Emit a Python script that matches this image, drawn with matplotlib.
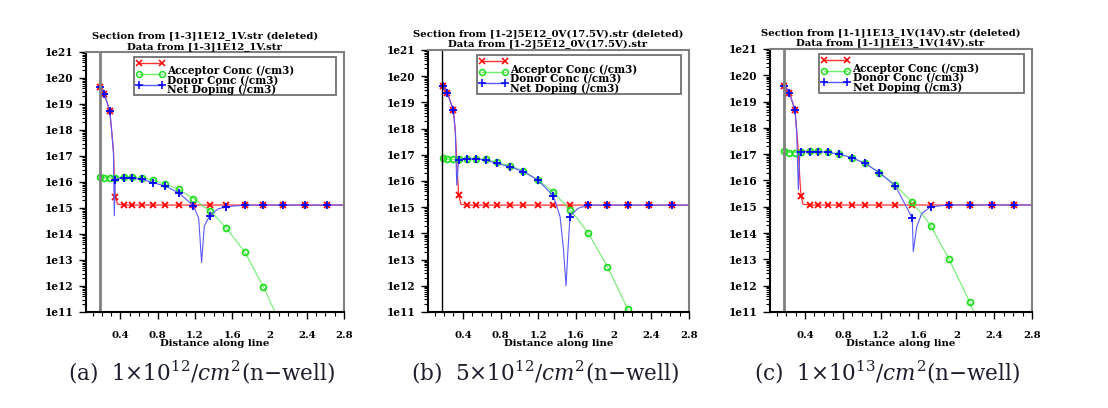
import numpy as np
import matplotlib
matplotlib.use('Agg')
import matplotlib.pyplot as plt
from matplotlib.patches import Rectangle
from matplotlib.lines import Line2D
from matplotlib.ticker import FixedLocator, LogLocator, NullFormatter, FuncFormatter, MultipleLocator

plt.rcParams['font.family'] = ['DejaVu Serif']
plt.rcParams['mathtext.fontset'] = 'dejavuserif'

# ---- panel (a): 1E12 ----
x_a = [0.185, 0.228, 0.285, 0.306, 0.325, 0.334, 0.343, 0.37, 0.436, 0.525, 0.633, 0.752, 0.876,
       1.027, 1.182, 1.24, 1.271, 1.30, 1.357, 1.45, 1.537, 1.737, 1.934, 2.149, 2.378, 2.622, 2.8]
acc_a = [4.5e19, 2.4e19, 5.4e18, 9e17, 1.5e17, 1.5e16, 2.6e15, 1.4e15] + [1.3e15] * 19
don_a = [1.5e16, 1.45e16, 1.45e16, 1.45e16, 1.45e16, 1.45e16, 1.45e16, 1.5e16, 1.58e16, 1.58e16,
         1.48e16, 1.17e16, 8.3e15, 5.2e15, 2.3e15, 1.7e15, 1.31e15, 1.1e15, 8e14, 3.7e14, 1.66e14,
         2e13, 9.3e11, 2e10, 1e8, 1e6, 1e5]
net_a = [4.5e19, 2.4e19, 5.4e18, 9e17, 1.35e17, 5e14, 1.2e16, 1.36e16, 1.38e16, 1.38e16, 1.26e16,
         9.3e15, 7.1e15, 3.8e15, 1.23e15, 4e14, 8e12, 2e14, 5e14, 9.3e14, 1.13e15, 1.28e15,
         1.3e15, 1.3e15, 1.3e15, 1.3e15, 1.3e15]
mk_a = [0, 1, 2, 6, 8, 9, 10, 11, 12, 13, 14, 18, 20, 21, 22, 23, 24, 25]

# ---- panel (b): 5E12 ----
x_b = [0.193, 0.235, 0.299, 0.32, 0.335, 0.355, 0.38, 0.441, 0.54, 0.646, 0.759, 0.9, 1.042,
       1.195, 1.36, 1.431, 1.466, 1.495, 1.517, 1.537, 1.62, 1.732, 1.934, 2.15, 2.379, 2.617, 2.8]
acc_b = [4.3e19, 2.3e19, 5.1e18, 8e17, 6e16, 2.9e15, 1.3e15] + [1.2e15] * 20
don_b = [7.4e16, 6.8e16, 6.8e16, 6.8e16, 6.8e16, 6.8e16, 7e16, 7.1e16, 7.1e16, 6.8e16, 5.1e16,
         3.8e16, 2.4e16, 1.1e16, 3.8e15, 2e15, 1.5e15, 1.2e15, 9.4e14, 7.8e14, 3.5e14, 1e14,
         5.4e12, 1.3e11, 1e9, 1e7, 1e5]
net_b = [4.3e19, 2.3e19, 5.1e18, 7.3e17, 7e15, 6.5e16, 6.9e16, 7e16, 7e16, 6.3e16, 4.7e16,
         3.5e16, 2.3e16, 1.1e16, 2.7e15, 4.5e14, 3e13, 1e12, 3e13, 4.4e14, 9e14, 1.2e15,
         1.2e15, 1.2e15, 1.2e15, 1.2e15, 1.2e15]
mk_b = [0, 1, 2, 5, 7, 8, 9, 10, 11, 12, 13, 14, 19, 21, 22, 23, 24, 25]

# ---- panel (c): 1E13 ----
x_c = [0.181, 0.234, 0.294, 0.312, 0.33, 0.345, 0.358, 0.38, 0.453, 0.541, 0.646, 0.763, 0.894,
       1.034, 1.185, 1.355, 1.486, 1.534, 1.545, 1.581, 1.634, 1.729, 1.925, 2.144, 2.38, 2.609, 2.8]
acc_c = [3.9e19, 2.2e19, 4.8e18, 8e17, 1.2e17, 1.2e16, 2.6e15, 1.25e15] + [1.17e15] * 19
don_c = [1.35e17, 1.15e17, 1.15e17, 1.15e17, 1.15e17, 1.2e17, 1.26e17, 1.3e17, 1.32e17, 1.32e17,
         1.17e17, 1e17, 7.4e16, 4.5e16, 2e16, 6.8e15, 2.2e15, 1.5e15, 1.2e15, 8.9e14, 5.5e14,
         1.9e14, 1e13, 2.3e11, 1e9, 1e7, 1e5]
net_c = [3.9e19, 2.2e19, 4.8e18, 6.9e17, 4.4e15, 1.1e17, 1.2e17, 1.28e17, 1.26e17, 1.26e17,
         1.17e17, 1e17, 7.4e16, 4.5e16, 2e16, 6.3e15, 8e14, 3.6e14, 2e13, 1.7e14, 5.6e14, 1e15,
         1.17e15, 1.17e15, 1.17e15, 1.17e15, 1.17e15]
mk_c = [0, 1, 2, 6, 8, 9, 10, 11, 12, 13, 14, 15, 17, 21, 22, 23, 24, 25]

surface_x = 0.175
xticks = [0.4, 0.8, 1.2, 1.6, 2.0, 2.4, 2.8]
legend_labels = ['Acceptor Conc (/cm3)', 'Donor Conc (/cm3)', 'Net Doping (/cm3)']
titles = [('Section from [1-3]1E12_1V.str (deleted)', 'Data from [1-3]1E12_1V.str'),
          ('Section from [1-2]5E12_0V(17.5V).str (deleted)', 'Data from [1-2]5E12_0V(17.5V).str'),
          ('Section from [1-1]1E13_1V(14V).str (deleted)', 'Data from [1-1]1E13_1V(14V).str')]
captions = [r'(a)  1$\times$10$^{12}$/$cm^2$(n$-$well)',
            r'(b)  5$\times$10$^{12}$/$cm^2$(n$-$well)',
            r'(c)  1$\times$10$^{13}$/$cm^2$(n$-$well)']

W, H = 1108, 408
fig = plt.figure(figsize=(W / 100, H / 100), dpi=100)

# pixel boxes of the three axes: left, right, top, bottom
boxes = [(86, 344, 52, 312), (428, 689, 50, 312), (770, 1032, 49, 312)]
surf_styles = [('#808080', 2.0), ('black', 1.0), ('#808080', 2.0)]
panels = [(x_a, acc_a, don_a, net_a, mk_a), (x_b, acc_b, don_b, net_b, mk_b), (x_c, acc_c, don_c, net_c, mk_c)]

# series styles: line color, marker color, marker, size, line width
styles = [('#ff3030', '#ff0000', 'x', 4.5, 0.9),
          ('#70ee70', '#20dd20', 'o', 4.2, 0.8),
          ('#5858ff', '#0000ff', '+', 6.0, 0.8)]

bold = dict(fontweight='bold', fontsize=7.3)

for i, ((l, r, t, b), data) in enumerate(zip(boxes, panels)):
    ax = fig.add_axes([l / W, 1 - b / H, (r - l) / W, (b - t) / H])
    x, acc, don, net, mk = data
    ax.set_yscale('log')
    for vals, (lc, mc, m, ms, lw) in zip([acc, don, net], styles):
        ax.plot(x, vals, color=lc, lw=lw, marker=m, ms=ms, mew=1.3, mec=mc,
                mfc='none', markevery=mk)
    ax.axvline(surface_x, color=surf_styles[i][0], lw=surf_styles[i][1])
    ax.set_xlim(0.03, 2.8)
    ax.set_ylim(1e11, 1e21)

    ax.yaxis.set_major_locator(LogLocator(base=10, numticks=20))
    ax.yaxis.set_minor_locator(LogLocator(base=10, subs=np.arange(2, 10), numticks=20))
    ax.yaxis.set_minor_formatter(NullFormatter())
    ax.yaxis.set_major_formatter(FuncFormatter(lambda v, p: '1e%d' % round(np.log10(v))))
    ax.xaxis.set_major_locator(FixedLocator(xticks))
    ax.xaxis.set_major_formatter(FuncFormatter(lambda v, p: '%g' % v))
    ax.xaxis.set_minor_locator(MultipleLocator(0.1))
    ax.tick_params(axis='y', which='major', length=5, width=1, pad=4, labelsize=7.6)
    ax.tick_params(axis='y', which='minor', length=3, width=0.8)
    ax.tick_params(axis='x', which='major', length=5, width=1, pad=9, labelsize=7.3)
    ax.tick_params(axis='x', which='minor', length=3, width=0.8)
    for lab in ax.get_xticklabels() + ax.get_yticklabels():
        lab.set_fontweight('bold')
    for s in ['left', 'bottom']:
        ax.spines[s].set_color('black')
        ax.spines[s].set_linewidth(1.5)
    for s in ['top', 'right']:
        ax.spines[s].set_color('#808080')
        ax.spines[s].set_linewidth(1.5)

    ax.text(0.5, -0.12, 'Distance along line', transform=ax.transAxes,
            ha='center', va='center', **bold)
    ax.text(0.46, 1 + 15 / (b - t), titles[i][0], transform=ax.transAxes,
            ha='center', va='center', **bold)
    ax.text(0.46, 1 + 5 / (b - t), titles[i][1], transform=ax.transAxes,
            ha='center', va='center', **bold)

    # legend box (text is clipped by the frame like in the original)
    frame = Rectangle((0.187, 0.833), 0.783, 0.148, transform=ax.transAxes,
                      facecolor='white', edgecolor='#707070', lw=1.3, zorder=5)
    ax.add_patch(frame)
    for lab, (lc, mc, m, ms, lw), ys, yt in zip(legend_labels, styles,
                                               [0.957, 0.915, 0.873], [0.927, 0.89, 0.854]):
        ln = Line2D([0.205, 0.295], [ys, ys], transform=ax.transAxes, color=lc, lw=1,
                    marker=m, ms=ms, mew=1.1, mec=mc, mfc='none', zorder=6)
        ax.add_line(ln)
        tx = ax.text(0.315, yt, lab, transform=ax.transAxes, va='center', ha='left',
                     zorder=6, fontweight='bold', fontsize=7.6)
        tx.set_clip_path(frame)

    fig.text(((l + r) / 2 - 14) / W, 1 - 372 / H, captions[i], ha='center', va='center',
             fontsize=15.5, color='#1c1c2c')

fig.savefig('out.png', dpi=100)
